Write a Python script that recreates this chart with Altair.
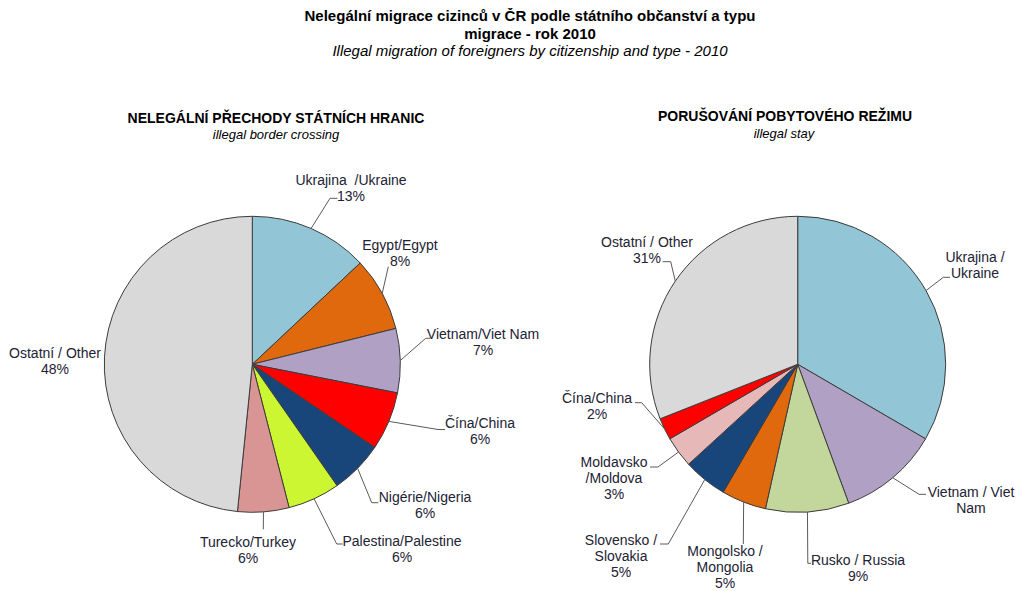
import math
import altair as alt
import pandas as pd

# ---------------- data ----------------
left_keys = ["Ukrajina", "Egypt", "Vietnam", "Čína", "Nigérie", "Palestina", "Turecko", "Ostatní"]
left_names = ["Ukrajina \u00a0/Ukraine", "Egypt/Egypt", "Vietnam/Viet Nam", "Čína/China",
              "Nigérie/Nigeria", "Palestina/Palestine", "Turecko/Turkey", "Ostatní / Other"]
left_values = [13.0, 8.1, 7.0, 6.4, 5.8, 5.7, 5.6, 48.4]
left_show_pct = [True, True, True, True, True, True, True, True]

right_keys = ["Ukrajina", "Vietnam", "Rusko", "Mongolsko", "Slovensko", "Moldavsko", "Čína", "Ostatní"]
right_names = ["Ukrajina /\nUkraine", "Vietnam / Viet\nNam", "Rusko / Russia", "Mongolsko /\nMongolia",
               "Slovensko /\nSlovakia", "Moldavsko\n/Moldova", "Čína/China", "Ostatní / Other"]
right_values = [33.4, 11.0, 9.1, 4.9, 4.8, 3.4, 2.4, 31.0]
right_show_pct = [False, False, True, True, True, True, True, True]

title_lines = ["Nelegální migrace cizinců v ČR podle státního občanství a typu", "migrace - rok 2010"]
subtitle_line = "Illegal migration  of foreigners by citizenship and type  - 2010"
pie_titles = ["NELEGÁLNÍ PŘECHODY  STÁTNÍCH HRANIC", "PORUŠOVÁNÍ POBYTOVÉHO REŽIMU"]
pie_subtitles = ["illegal border crossing", "illegal stay"]

# ---------------- styles / layout ----------------
color_map = {
    "Ukrajina": "#92C5D6", "Egypt": "#E0690E", "Vietnam": "#B0A1C4", "Čína": "#FF0000",
    "Nigérie": "#19467A", "Palestina": "#CCF532", "Turecko": "#D99594", "Ostatní": "#D9D9D9",
    "Rusko": "#C3D69B", "Mongolsko": "#E0690E", "Slovensko": "#19467A", "Moldavsko": "#E6B9B8",
}
R = 148
centers = {"L": (252.3, 364.3), "R": (797.7, 364.3)}
FS = 14
LH = 16

# label first-line centre and leader elbow / tick end (page pixels)
left_label_pos = [(351, 180), (400, 245), (483, 334), (480, 423), (425, 497), (402, 541), (248, 542), (55, 353)]
left_leader = [[(330, 198.3), (337.5, 198.3)], [(388.3, 266.7)], [(425.7, 338.3), (430, 338.3)],
               [(438, 429.5), (445, 429.5)], [(371.7, 502.7), (378.3, 502.7)],
               [(336.7, 544), (342.7, 544)], [(263.3, 529.3)], []]
right_label_pos = [(975, 257), (971, 492), (858, 560), (725, 551), (621, 540), (614, 462), (597, 398), (647, 242)]
right_leader = [[(943.3, 277.3), (950, 277.3)], [(919, 494.3), (926, 494.3)], [(807.8, 563.3), (811, 563.3)],
                [(743.3, 544)], [(668.3, 544), (660, 544)], [(658, 467), (650, 467)],
                [(641.7, 402.7), (635, 402.7)], [(670.7, 261.7), (662.7, 261.7)]]

arc_rows, label_rows, leader_rows = [], [], []
for pie, keys, names, vals, show, lpos, leads in [
    ("L", left_keys, left_names, left_values, left_show_pct, left_label_pos, left_leader),
    ("R", right_keys, right_names, right_values, right_show_pct, right_label_pos, right_leader),
]:
    cx, cy = centers[pie]
    total = sum(vals)
    cum = 0.0
    for i, (k, n, v, s) in enumerate(zip(keys, names, vals, show)):
        start = cum / total * 100
        end = (cum + v) / total * 100
        cum += v
        arc_rows.append({"pie": pie, "key": k, "start": start, "end": end, "cx": cx, "cy": cy})
        text = n + (f"\n{round(v / total * 100):.0f}%" if s else "")
        lx, ly = lpos[i]
        label_rows.append({"x": lx, "y": ly - 0.43 * FS, "text": text})
        if leads[i]:
            a = (start + end) / 2 / 100 * 2 * math.pi
            pts = [(cx + R * math.sin(a), cy - R * math.cos(a))] + leads[i]
            for j, (px, py) in enumerate(pts):
                leader_rows.append({"lid": f"{pie}{i}", "ord": j, "x": px, "y": py})

arc_df = pd.DataFrame(arc_rows)
label_df = pd.DataFrame(label_rows)
leader_df = pd.DataFrame(leader_rows)

main_df = pd.DataFrame({"x": [530, 530], "y": [16, 34], "text": title_lines})
sub_df = pd.DataFrame({"x": [530], "y": [51], "text": [subtitle_line]})
pt_df = pd.DataFrame({"x": [276, 785], "y": [119, 117], "text": pie_titles})
pst_df = pd.DataFrame({"x": [276, 784], "y": [135, 134], "text": pie_subtitles})

xs = alt.Scale(domain=[8, 1017], nice=False, zero=False)
ys = alt.Scale(domain=[8, 591], nice=False, zero=False, reverse=True)
FONT = "Liberation Sans"

arcs = alt.Chart(arc_df).mark_arc(outerRadius=R, stroke="#3c3c3c", strokeWidth=1).encode(
    x=alt.X("cx:Q", scale=xs, axis=None),
    y=alt.Y("cy:Q", scale=ys, axis=None),
    theta=alt.Theta("start:Q", scale=alt.Scale(domain=[0, 100], range=[0, 2 * math.pi]), stack=None),
    theta2="end:Q",
    color=alt.Color("key:N", scale=alt.Scale(domain=list(color_map.keys()), range=list(color_map.values())),
                    legend=None),
)

leaders = alt.Chart(leader_df).mark_line(color="#5a5a5a", strokeWidth=1).encode(
    x=alt.X("x:Q", scale=xs, axis=None),
    y=alt.Y("y:Q", scale=ys, axis=None),
    detail="lid:N",
    order="ord:Q",
)

labels = alt.Chart(label_df).mark_text(font=FONT, fontSize=FS, lineBreak="\n", lineHeight=LH,
                                       baseline="top", align="center", color="#222233").encode(
    x=alt.X("x:Q", scale=xs, axis=None),
    y=alt.Y("y:Q", scale=ys, axis=None),
    text="text:N",
)


def txt(df, **kw):
    return alt.Chart(df).mark_text(font=FONT, align="center", baseline="middle", color="#000000", **kw).encode(
        x=alt.X("x:Q", scale=xs, axis=None),
        y=alt.Y("y:Q", scale=ys, axis=None),
        text="text:N",
    )


main_t = txt(main_df, fontSize=15, fontWeight="bold")
sub_t = txt(sub_df, fontSize=15, fontStyle="italic")
pt_t = txt(pt_df, fontSize=14, fontWeight="bold")
pst_t = txt(pst_df, fontSize=13, fontStyle="italic")

chart = alt.layer(arcs, leaders, labels, main_t, sub_t, pt_t, pst_t).properties(
    width=1009, height=583, autosize=alt.AutoSizeParams(type="none"), padding=0,
    background="white",
).configure_view(stroke=None)

chart.save("out.html", embed_options={"renderer": "svg", "actions": False})
